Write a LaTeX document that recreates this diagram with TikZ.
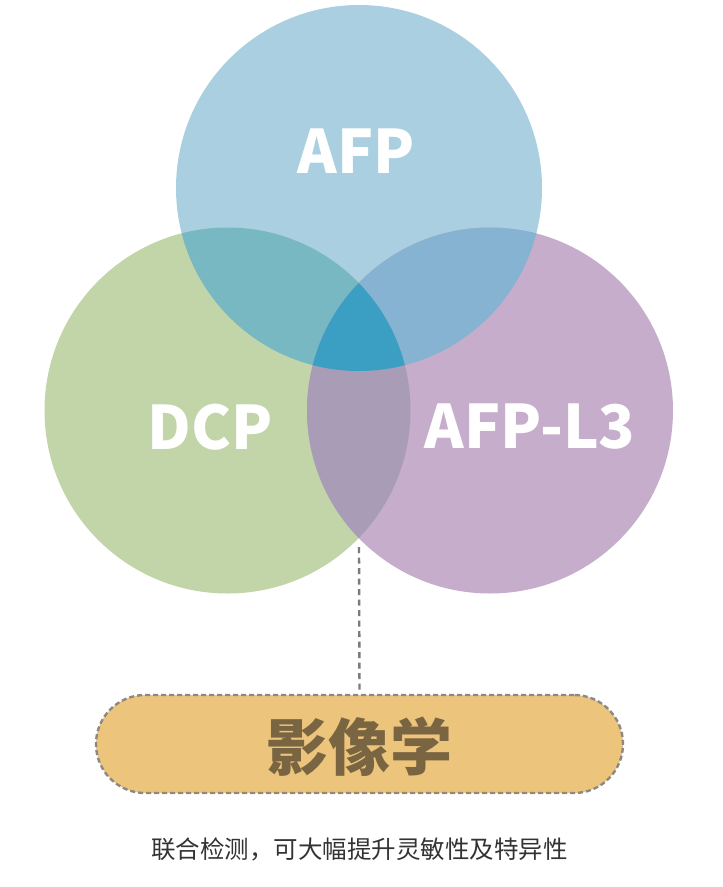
\documentclass[tikz,border=0pt]{standalone}
\usepackage{fontspec}
\newfontfamily\cjk{Noto Sans CJK SC}
\definecolor{cblue}{HTML}{A9CFE1}
\definecolor{cgreen}{HTML}{C1D5A8}
\definecolor{cpurple}{HTML}{C6ADCB}
\definecolor{cbg}{HTML}{77B8C3}
\definecolor{cbp}{HTML}{85B3D1}
\definecolor{cgp}{HTML}{A89CB7}
\definecolor{call}{HTML}{3B9FC3}
\definecolor{boxfill}{HTML}{EDC47C}
\definecolor{boxline}{HTML}{8C8883}
\definecolor{boxtext}{HTML}{7A6542}
\definecolor{captext}{HTML}{333333}
\tikzset{
  venn/.style={circle, inner sep=0pt, minimum size=#1},
  vlabel/.style={text=white, font=\cjk\bfseries\fontsize{60}{60}\selectfont, inner sep=0pt},
  pillbox/.style={draw=boxline, line width=2.4pt, dash pattern=on 5pt off 3pt, fill=boxfill,
    rounded corners=49pt, minimum width=527pt, minimum height=98pt, inner sep=0pt},
  conn/.style={draw=boxline!90!black, line width=2.4pt, dash pattern=on 6pt off 4.5pt},
}
\begin{document}
\begin{tikzpicture}[x=1pt,y=-1pt]
\useasboundingbox (0,0) rectangle (723,887);
% base circles
\node[venn=366pt, fill=cblue] (afpc) at (359,188) {};
\node[venn=366pt, fill=cgreen] (dcpc) at (227.5,410.5) {};
\node[venn=366pt, fill=cpurple] (l3c) at (490,410.5) {};
% pairwise overlaps
\begin{scope}
  \clip (359,188) circle (183);
  \fill[cbg] (227.5,410.5) circle (183);
  \fill[cbp] (490,410.5) circle (183);
\end{scope}
\begin{scope}
  \clip (227.5,410.5) circle (183);
  \fill[cgp] (490,410.5) circle (183);
  \clip (490,410.5) circle (183);
  \fill[call] (359,188) circle (183);
\end{scope}
% labels
\node[vlabel] (afpt) at (356,151) {AFP};
\node[vlabel] (dcpt) at (210,427) {DCP};
\node[vlabel] (l3t) at (530,427) {AFP-L3};
% box
\node[pillbox] (box) at (359.5,744) {};
\node[text=boxtext, font=\cjk\bfseries\fontsize{62}{62}\selectfont, inner sep=0pt] (boxt) at (359.5,747) {影像学};
\coordinate (vb) at (359,547);
\draw[conn] (vb) -- (box.north);
% caption
\node[text=captext, font=\cjk\fontsize{24.5}{24.5}\selectfont, inner sep=0pt] (cap) at (359.5,849) {联合检测，可大幅提升灵敏性及特异性};
\end{tikzpicture}
\end{document}
